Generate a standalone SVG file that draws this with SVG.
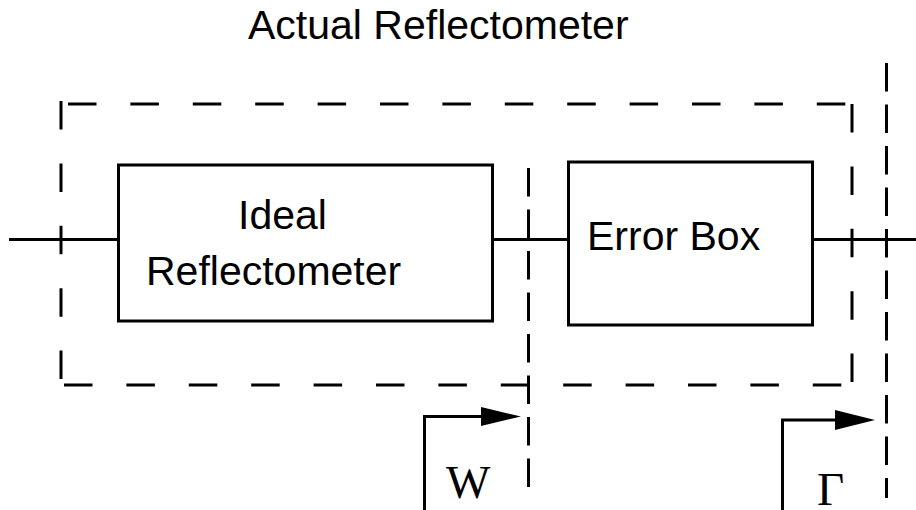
<svg xmlns="http://www.w3.org/2000/svg" width="916" height="510" viewBox="0 0 916 510">
<defs>
<style>
.sans{font-family:"Liberation Sans",Arial,sans-serif;font-size:41px;fill:#000}
.serif{font-family:"Liberation Serif","Times New Roman",serif;font-size:47px;fill:#000}
.box{fill:#fff;stroke:#000;stroke-width:3}
.line{stroke:#000;stroke-width:3;fill:none}
.outer{stroke:#000;stroke-width:3;fill:none;stroke-dasharray:28.5 33.9}
.plane{stroke:#000;stroke-width:3;fill:none;stroke-dasharray:28.5 13}
</style>
</defs>
<rect width="916" height="510" fill="#fff"/>
<text id="title" class="sans" x="248" y="39">Actual Reflectometer</text>
<g id="connectors">
<line class="line" x1="9" y1="239.5" x2="118" y2="239.5"/>
<line class="line" x1="493" y1="239.5" x2="568" y2="239.5"/>
<line class="line" x1="812" y1="239.5" x2="916" y2="239.5"/>
<polyline class="line" points="424.5,510 424.5,416.5 484,416.5"/>
<polygon points="481,407 521,416.5 481,426" fill="#000"/>
<polyline class="line" points="782.5,510 782.5,420 838,420"/>
<polygon points="835,410 875,420 835,430" fill="#000"/>
</g>
<g id="actual-reflectometer">
<line class="outer" x1="68" y1="104" x2="852" y2="104"/>
<line class="outer" x1="852" y1="104" x2="852" y2="384"/>
<line class="outer" x1="61" y1="101" x2="61" y2="384"/>
<line class="outer" x1="64" y1="385" x2="852" y2="385"/>
</g>
<g id="plane-w">
<line class="plane" x1="528.5" y1="168" x2="528.5" y2="492"/>
</g>
<g id="plane-gamma">
<line class="plane" x1="886.5" y1="63" x2="886.5" y2="498"/>
</g>
<g id="ideal-reflectometer">
<rect class="box" x="118.5" y="165" width="374" height="156"/>
<text class="sans" x="238" y="229">Ideal</text>
<text class="sans" x="146" y="285">Reflectometer</text>
</g>
<g id="error-box">
<rect class="box" x="568.5" y="162" width="244" height="163"/>
<text class="sans" x="587" y="250">Error Box</text>
</g>
<text id="label-w" class="serif" x="446" y="498">W</text>
<text id="label-gamma" class="serif" x="817" y="505">Γ</text>
</svg>
